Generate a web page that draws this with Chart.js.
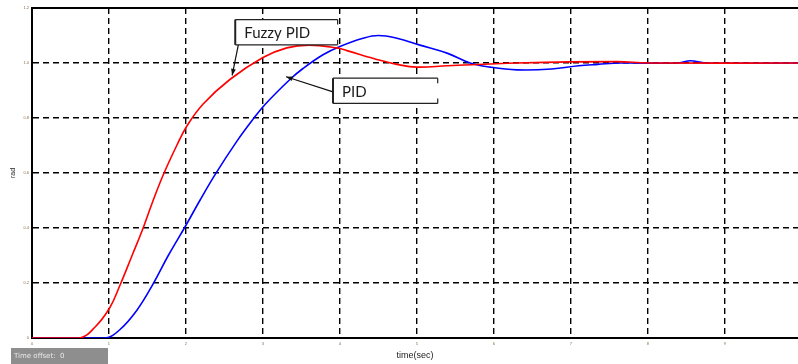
<!DOCTYPE html>
<html>
<head>
<meta charset="utf-8">
<script src="https://cdn.jsdelivr.net/npm/chart.js@4.4.0/dist/chart.umd.min.js"></script>
<style>
  html, body { margin: 0; padding: 0; background: #fff; overflow: hidden; }
  #wrap { width: 798px; height: 364px; }
</style>
</head>
<body>
<div id="wrap"><canvas id="chart"></canvas></div>
<script>
// time (sec) and response for each controller
const fuzzyTime = [0, 0.62, 0.82, 1.01, 1.14, 1.30, 1.43, 1.56, 1.70, 1.88, 2.01, 2.22, 2.57, 3.0, 3.31, 3.6, 3.96, 4.09, 4.52, 4.74, 5.0, 5.4, 6.3, 7.6, 8.0, 9.95];
const fuzzyValue = [0, 0, 0.04, 0.11, 0.19, 0.30, 0.39, 0.49, 0.59, 0.70, 0.77, 0.85, 0.94, 1.02, 1.055, 1.065, 1.055, 1.045, 1.01, 0.995, 0.985, 0.99, 1.0, 1.005, 1.0, 1.0];

const pidTime = [0, 0.95, 1.14, 1.36, 1.57, 1.77, 2.0, 2.18, 2.38, 2.66, 2.87, 3.03, 3.35, 3.52, 3.78, 4.0, 4.3, 4.5, 4.74, 5.04, 5.4, 5.69, 5.95, 6.3, 6.75, 7.1, 7.35, 7.65, 8.4, 8.55, 8.75, 9.95];
const pidValue = [0, 0, 0.03, 0.10, 0.195, 0.30, 0.41, 0.50, 0.595, 0.715, 0.795, 0.85, 0.94, 0.98, 1.03, 1.06, 1.09, 1.10, 1.09, 1.065, 1.035, 1.0, 0.985, 0.975, 0.978, 0.99, 0.995, 1.0, 1.0, 1.008, 1.0, 1.0];

const xTicks = [0, 1, 2, 3, 4, 5, 6, 7, 8, 9];
const yTicks = [0, 0.2, 0.4, 0.6, 0.8, 1.0, 1.2];

// callout labels: box corners and arrow tip, in data units
const callouts = [
  { text: "Fuzzy PID", box: [2.64, 1.158, 3.97, 1.066], from: [2.68, 1.066], tip: [2.60, 0.955] },
  { text: "PID", box: [3.91, 0.945, 5.27, 0.853], from: [3.91, 0.895], tip: [3.30, 0.95] }
];

function pairs(xs, ys) {
  return xs.map((x, i) => ({ x: x, y: ys[i] }));
}

function arrow(ctx, x1, y1, x2, y2) {
  const a = Math.atan2(y2 - y1, x2 - x1);
  ctx.beginPath();
  ctx.moveTo(x1, y1);
  ctx.lineTo(x2, y2);
  ctx.stroke();
  ctx.beginPath();
  ctx.moveTo(x2, y2);
  ctx.lineTo(x2 - 7 * Math.cos(a - 0.35), y2 - 7 * Math.sin(a - 0.35));
  ctx.lineTo(x2 - 7 * Math.cos(a + 0.35), y2 - 7 * Math.sin(a + 0.35));
  ctx.closePath();
  ctx.fill();
}

const extras = {
  id: "extras",
  afterDatasetsDraw(c) {
    const ctx = c.ctx;
    const xs = c.scales.x, ys = c.scales.y;
    ctx.save();
    // top frame line
    ctx.strokeStyle = "#000";
    ctx.lineWidth = 2;
    ctx.beginPath();
    ctx.moveTo(c.chartArea.left, c.chartArea.top);
    ctx.lineTo(c.chartArea.right, c.chartArea.top);
    ctx.stroke();

    callouts.forEach(cl => {
      const l = xs.getPixelForValue(cl.box[0]), t = ys.getPixelForValue(cl.box[1]);
      const r = xs.getPixelForValue(cl.box[2]), b = ys.getPixelForValue(cl.box[3]);
      ctx.fillStyle = "#fff";
      ctx.fillRect(l, t, r - l, b - t);
      ctx.strokeStyle = "#222";
      ctx.lineWidth = 1.2;
      ctx.beginPath();
      ctx.moveTo(l, t); ctx.lineTo(r, t);
      ctx.moveTo(l, b); ctx.lineTo(r, b);
      ctx.moveTo(r, t); ctx.lineTo(r, t + 5);
      ctx.moveTo(r, b); ctx.lineTo(r, b - 5);
      ctx.stroke();
      ctx.lineWidth = 2;
      ctx.beginPath();
      ctx.moveTo(l, t); ctx.lineTo(l, b);
      ctx.stroke();

      ctx.fillStyle = "#1a1a1a";
      ctx.font = "15px Lato";
      ctx.textBaseline = "middle";
      ctx.textAlign = "left";
      ctx.fillText(cl.text, l + 9, (t + b) / 2 + 1);

      ctx.strokeStyle = "#111";
      ctx.fillStyle = "#111";
      ctx.lineWidth = 1.2;
      arrow(ctx, xs.getPixelForValue(cl.from[0]), ys.getPixelForValue(cl.from[1]),
        xs.getPixelForValue(cl.tip[0]), ys.getPixelForValue(cl.tip[1]));
    });

    // scope status bar
    ctx.fillStyle = "#8e8e8e";
    ctx.fillRect(11, 348, 97, 16);
    ctx.fillStyle = "#e8e8e8";
    ctx.font = "7px 'DejaVu Sans'";
    ctx.textAlign = "left";
    ctx.textBaseline = "middle";
    ctx.fillText("Time offset:  0", 14, 356);
    ctx.restore();
  }
};

new Chart(document.getElementById("chart"), {
  type: "line",
  data: {
    datasets: [
      {
        label: "Fuzzy PID",
        data: pairs(fuzzyTime, fuzzyValue),
        borderColor: "#ff0000",
        borderWidth: 1.6,
        pointRadius: 0,
        tension: 0.4
      },
      {
        label: "PID",
        data: pairs(pidTime, pidValue),
        borderColor: "#0000ff",
        borderWidth: 1.6,
        pointRadius: 0,
        tension: 0.4
      }
    ]
  },
  options: {
    responsive: true,
    maintainAspectRatio: false,
    animation: false,
    layout: { padding: { top: 8, right: 0, left: 0, bottom: 0 } },
    plugins: {
      legend: { display: false },
      tooltip: { enabled: false }
    },
    scales: {
      x: {
        type: "linear",
        min: 0,
        max: 9.95,
        afterBuildTicks: s => { s.ticks = xTicks.map(v => ({ value: v })); },
        afterFit: s => { s.height = 26; },
        grid: { color: "#000", lineWidth: 1.4, drawTicks: false },
        border: { color: "#000", width: 2, dash: [6, 4] },
        ticks: { color: "#8a6a40", font: { size: 4 }, padding: 3 },
        title: { display: true, text: "time(sec)", color: "#222", font: { size: 9, family: "Arial" }, padding: { top: 0, bottom: 3 } }
      },
      y: {
        min: 0,
        max: 1.2,
        afterBuildTicks: s => { s.ticks = yTicks.map(v => ({ value: v })); },
        afterFit: s => { s.width = 32; },
        grid: { color: "#000", lineWidth: 1.4, drawTicks: false },
        border: { color: "#000", width: 2, dash: [6, 4] },
        ticks: { color: "#8a6a40", font: { size: 4 }, padding: 3 },
        title: { display: true, text: "rad", color: "#222", font: { size: 7, family: "Arial" }, padding: { top: 9, bottom: 0 } }
      }
    }
  },
  plugins: [extras]
});
</script>
</body>
</html>
